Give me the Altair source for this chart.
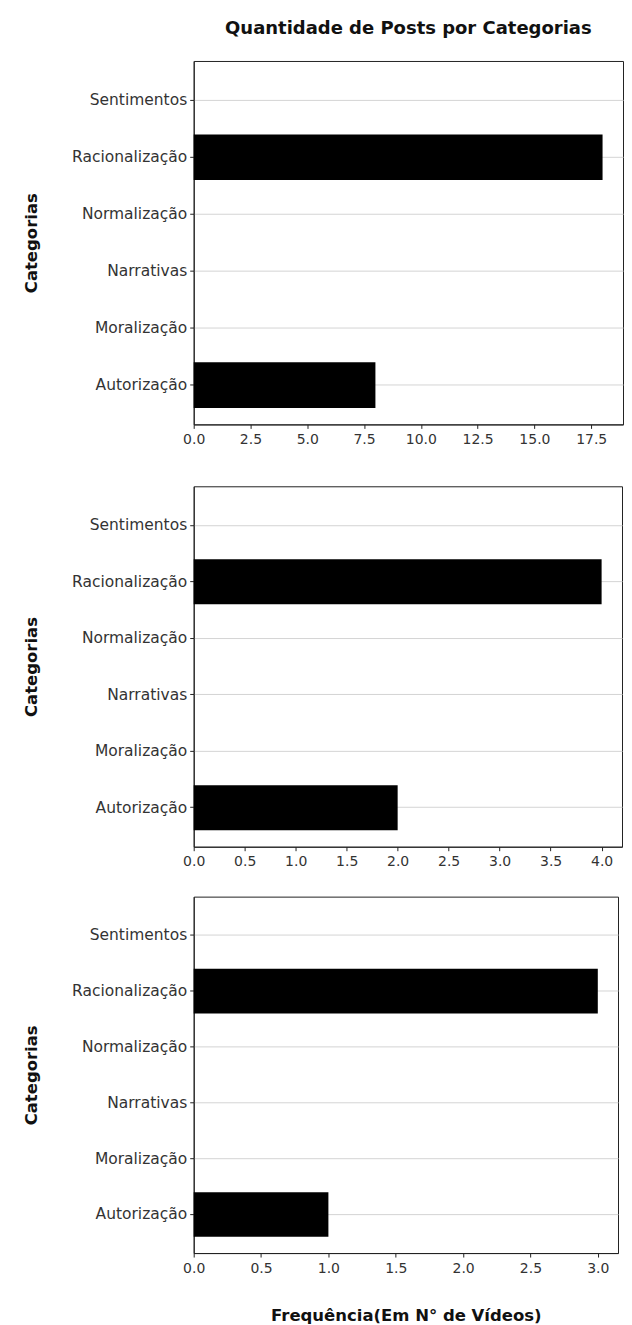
import altair as alt
import pandas as pd

categories = ["Autorização", "Moralização", "Narrativas", "Normalização", "Racionalização", "Sentimentos"]
order_top_to_bottom = ["Sentimentos", "Racionalização", "Normalização", "Narrativas", "Moralização", "Autorização"]

posts_1 = [8, 0, 0, 0, 18, 0]
posts_2 = [2, 0, 0, 0, 4, 0]
posts_3 = [1, 0, 0, 0, 3, 0]

x_max = [18.9, 4.2, 3.15]
ticks_1 = [0, 2.5, 5, 7.5, 10, 12.5, 15, 17.5]
ticks_2 = [0, 0.5, 1, 1.5, 2, 2.5, 3, 3.5, 4]
ticks_3 = [0, 0.5, 1, 1.5, 2, 2.5, 3]

FONT = "DejaVu Sans"


def panel(values, xmax, ticks, width, height, xtitle=None, title=None):
    df = pd.DataFrame({"Categoria": categories, "Frequência": values})
    xa = dict(values=ticks, format=".1f", grid=False, labelFontSize=14, labelColor="#333",
              tickSize=4, tickColor="#222", domainColor="#222", labelPadding=4,
              labelFlush=False)
    if xtitle:
        xa.update(title=xtitle, titleFontSize=16.5, titleFontWeight="bold", titleColor="#111",
                  titlePadding=33)
    else:
        xa.update(title="")
    ya = alt.Axis(title="Categorias", titleFontSize=16.5, titleFontWeight="bold", titleColor="#111",
                  titlePadding=32, labelFontSize=15.5, labelColor="#333", tickSize=4,
                  tickColor="#222", domainColor="#222", labelPadding=3, grid=True,
                  gridColor="#d4d4d4", gridWidth=1, bandPosition=0.5)
    ch = alt.Chart(df).mark_bar(color="black").encode(
        x=alt.X("Frequência:Q", axis=alt.Axis(**xa),
                scale=alt.Scale(domain=[0, xmax], nice=False, zero=True)),
        y=alt.Y("Categoria:N", sort=order_top_to_bottom, axis=ya,
                scale=alt.Scale(paddingInner=0.2, paddingOuter=0.29)),
    )
    props = dict(width=width, height=height)
    if title:
        props["title"] = alt.TitleParams(title, fontSize=18, fontWeight="bold", color="#111",
                                         anchor="middle", frame="group", offset=23, font=FONT)
    return ch.properties(**props)


p1 = panel(posts_1, x_max[0], ticks_1, 430, 364, title="Quantidade de Posts por Categorias")
p2 = panel(posts_2, x_max[1], ticks_2, 429, 361)
p3 = panel(posts_3, x_max[2], ticks_3, 425, 357, xtitle="Frequência(Em N° de Vídeos)")

chart = alt.vconcat(alt.vconcat(p1, p2, spacing=38), p3, spacing=26).properties(
    padding={"left": 15, "right": 0, "top": 10, "bottom": 0}
).configure(font=FONT).configure_view(stroke="#222", strokeWidth=1)

chart.save("out.html", embed_options={"renderer": "svg", "actions": False})
